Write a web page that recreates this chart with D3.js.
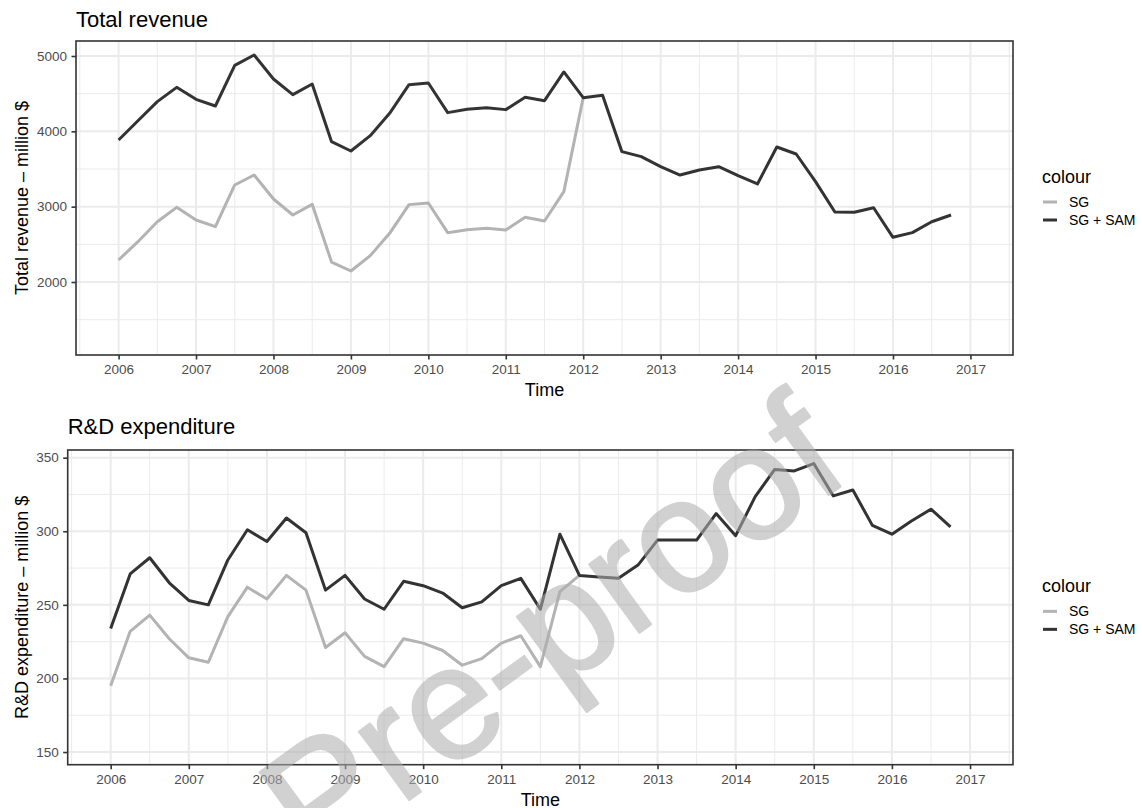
<!DOCTYPE html>
<html>
<head>
<meta charset="utf-8">
<script src="https://cdn.jsdelivr.net/npm/d3@7"></script>
<style>
  html, body { margin: 0; padding: 0; background: #ffffff; }
  svg { display: block; font-family: "Liberation Sans", Arial, Helvetica, sans-serif; }
</style>
</head>
<body>
<svg id="chart" width="1142" height="808"></svg>
<script>
// Quarterly series, starting 2006 Q1
const startYear = 2006;
const quartersPerYear = 4;

// Total revenue (million $)
const revenueSGSAM = [3885, 4140, 4394, 4584, 4425, 4336, 4876, 5013, 4695, 4487, 4628, 3863,
  3739, 3942, 4239, 4619, 4642, 4248, 4292, 4314, 4288, 4451, 4407, 4788,
  4447, 4478, 3730, 3664, 3531, 3420, 3487, 3531, 3411, 3301, 3792, 3699,
  3332, 2929, 2925, 2986, 2593, 2655, 2800, 2889];
const revenueSG = [2292, 2535, 2800, 2991, 2823, 2735, 3288, 3420, 3102, 2889, 3031, 2265,
  2146, 2350, 2646, 3027, 3049, 2655, 2694, 2713, 2690, 2859, 2810, 3199, 4447];

// R&D expenditure (million $)
const rdSGSAM = [234, 271, 282, 265, 253, 250, 280.5, 301, 293, 309, 299, 260,
  270, 254, 247, 266, 263, 258, 248, 252, 263, 268, 247, 298,
  270, 269, 268, 277, 294, 294, 294, 312, 297, 323.5, 342, 341,
  346, 324, 328, 304, 298, 307, 315, 303];
const rdSG = [195, 232, 243, 227, 214, 211, 242, 262, 254, 270, 260, 221,
  231, 215, 208, 227, 224, 219, 209, 213.5, 224, 229, 208, 259, 270];

// Axis breaks
const yearTicks = [2006, 2007, 2008, 2009, 2010, 2011, 2012, 2013, 2014, 2015, 2016, 2017];
const revenueTicks = [2000, 3000, 4000, 5000];
const rdTicks = [150, 200, 250, 300, 350];

// Legend
const seriesNames = ["SG", "SG + SAM"];
const seriesColors = ["#b3b3b3", "#333333"];

const svg = d3.select("#chart");

function toSeries(values) {
  return values.map((v, i) => ({ t: startYear + i / quartersPerYear, v: v }));
}

function midpoints(ticks) {
  const step = ticks[1] - ticks[0];
  const out = ticks.map(t => t - step / 2);
  out.push(ticks[ticks.length - 1] + step / 2);
  return out;
}

function drawPanel(cfg) {
  const g = svg.append("g");
  const { left, right, top, bottom } = cfg.box;

  const x = d3.scaleLinear().domain(cfg.xDomain).range([left, right]);
  const y = d3.scaleLinear().domain(cfg.yDomain).range([bottom, top]);

  // minor grid
  const xMinor = midpoints(yearTicks).filter(v => v > cfg.xDomain[0] && v < cfg.xDomain[1]);
  const yMinor = midpoints(cfg.yTicks).filter(v => v > cfg.yDomain[0] && v < cfg.yDomain[1]);
  g.append("g").selectAll("line").data(xMinor).join("line")
    .attr("x1", d => x(d)).attr("x2", d => x(d)).attr("y1", top).attr("y2", bottom)
    .attr("stroke", "#ebebeb").attr("stroke-width", 1);
  g.append("g").selectAll("line").data(yMinor).join("line")
    .attr("y1", d => y(d)).attr("y2", d => y(d)).attr("x1", left).attr("x2", right)
    .attr("stroke", "#ebebeb").attr("stroke-width", 1);

  // major grid
  g.append("g").selectAll("line").data(yearTicks).join("line")
    .attr("x1", d => x(d)).attr("x2", d => x(d)).attr("y1", top).attr("y2", bottom)
    .attr("stroke", "#ebebeb").attr("stroke-width", 2);
  g.append("g").selectAll("line").data(cfg.yTicks).join("line")
    .attr("y1", d => y(d)).attr("y2", d => y(d)).attr("x1", left).attr("x2", right)
    .attr("stroke", "#ebebeb").attr("stroke-width", 2);

  // series
  const line = d3.line().defined(d => d.v != null).x(d => x(d.t)).y(d => y(d.v));
  cfg.series.forEach((vals, i) => {
    g.append("path")
      .datum(toSeries(vals))
      .attr("d", line)
      .attr("fill", "none")
      .attr("stroke", seriesColors[i])
      .attr("stroke-width", 3)
      .attr("stroke-linejoin", "round");
  });

  // panel border
  g.append("rect")
    .attr("x", left).attr("y", top).attr("width", right - left).attr("height", bottom - top)
    .attr("fill", "none").attr("stroke", "#333333").attr("stroke-width", 1.6);

  // axes
  const xAxis = d3.axisBottom(x).tickValues(yearTicks).tickFormat(d3.format("d"))
    .tickSize(4.5).tickPadding(5);
  const xg = g.append("g").attr("transform", `translate(0,${bottom})`).call(xAxis);
  const yAxis = d3.axisLeft(y).tickValues(cfg.yTicks).tickFormat(d3.format("d"))
    .tickSize(4.5).tickPadding(4.5);
  const yg = g.append("g").attr("transform", `translate(${left},0)`).call(yAxis);
  [xg, yg].forEach(a => {
    a.select(".domain").remove();
    a.selectAll(".tick line").attr("stroke", "#333333").attr("stroke-width", 1.6);
    a.selectAll(".tick text").attr("fill", "#4d4d4d")
      .style("font-size", "13.5px").style("font-family", "Liberation Sans, Arial, sans-serif");
  });

  // titles
  g.append("text").attr("x", left).attr("y", cfg.titleY)
    .style("font-size", "22px").attr("fill", "#000").text(cfg.title);
  g.append("text").attr("x", (left + right) / 2).attr("y", bottom + 41)
    .attr("text-anchor", "middle").style("font-size", "18px").attr("fill", "#000").text("Time");
  g.append("text")
    .attr("transform", `translate(28,${(top + bottom) / 2}) rotate(-90)`)
    .attr("text-anchor", "middle").style("font-size", "18px").attr("fill", "#000")
    .text(cfg.yTitle);

  // legend
  const cy = (top + bottom) / 2;
  const lg = g.append("g").attr("transform", `translate(1042,${cy - 28})`);
  lg.append("text").attr("x", 0).attr("y", 13).style("font-size", "18px").attr("fill", "#000").text("colour");
  seriesNames.forEach((name, i) => {
    const ky = 32 + i * 18;
    lg.append("line").attr("x1", 1).attr("x2", 15).attr("y1", ky).attr("y2", ky)
      .attr("stroke", seriesColors[i]).attr("stroke-width", 3);
    lg.append("text").attr("x", 27).attr("y", ky).attr("dy", "0.35em")
      .style("font-size", "14px").attr("fill", "#000").text(name);
  });
}

drawPanel({
  box: { left: 76, right: 1013, top: 41, bottom: 355 },
  xDomain: [2005.45, 2017.55],
  yDomain: [1031, 5199],
  yTicks: revenueTicks,
  series: [revenueSG, revenueSGSAM],
  title: "Total revenue",
  titleY: 27,
  yTitle: "Total revenue – million $"
});

drawPanel({
  box: { left: 67.7, right: 1013, top: 450, bottom: 764.7 },
  xDomain: [2005.45, 2017.55],
  yDomain: [141.4, 355.2],
  yTicks: rdTicks,
  series: [rdSG, rdSGSAM],
  title: "R&D expenditure",
  titleY: 434,
  yTitle: "R&D expenditure – million $"
});

// watermark (group opacity so fill and outline composite once)
svg.append("g")
  .attr("opacity", 0.56)
  .append("text")
  .attr("transform", "translate(314,869) rotate(-36)")
  .attr("text-anchor", "start")
  .style("font-size", "160px")
  .attr("fill", "#aeaeae")
  .attr("stroke", "#aeaeae").attr("stroke-width", 2.5).attr("stroke-linejoin", "round")
  .text("Pre-proof");
</script>
</body>
</html>
